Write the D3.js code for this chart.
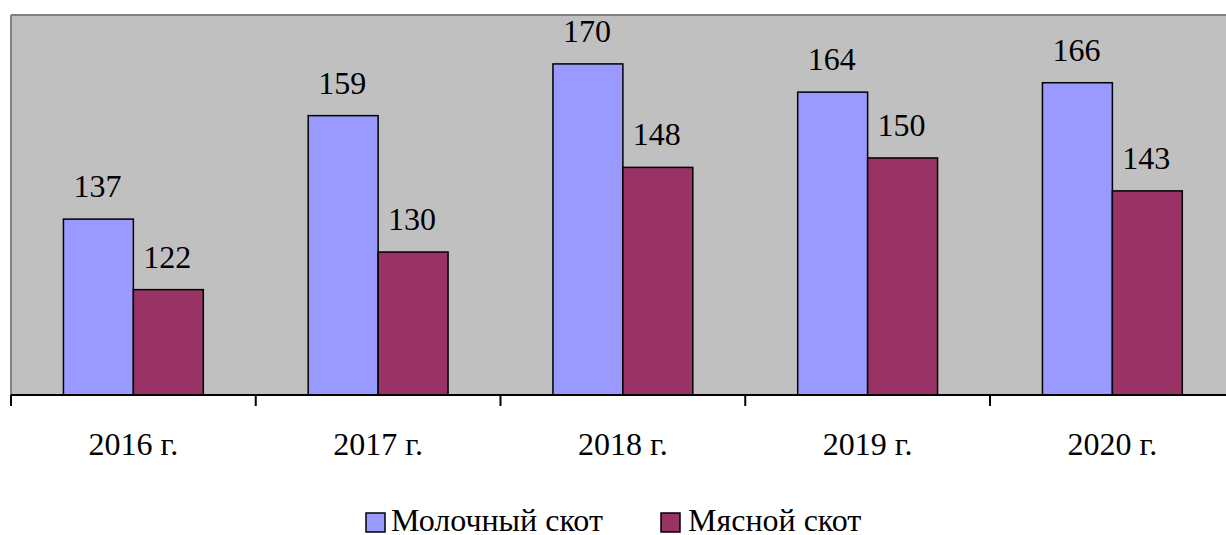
<!DOCTYPE html>
<html>
<head>
<meta charset="utf-8">
<script src="https://cdn.jsdelivr.net/npm/d3@7"></script>
<style>
  html, body { margin: 0; padding: 0; background: #fff; overflow: hidden; }
  svg { display: block; }
</style>
</head>
<body>
<svg id="chart" width="1226" height="535"></svg>
<script>
const categories = ["2016 г.", "2017 г.", "2018 г.", "2019 г.", "2020 г."];
const seriesNames = ["Молочный скот", "Мясной скот"];
const dairy = [137, 159, 170, 164, 166];
const beef = [122, 130, 148, 150, 143];
const seriesColors = ["#9999FF", "#993366"];

const FONT = "Liberation Serif";
const svg = d3.select("#chart");

const plot = { left: 11, top: 15, bottom: 395, catWidth: 244.75 };
const plotRight = plot.left + plot.catWidth * categories.length;

const x = d3.scaleBand().domain(categories).range([plot.left, plotRight]).paddingInner(0).paddingOuter(0);
const y = d3.scaleLinear().domain([99.6, 180.4]).range([plot.bottom, plot.top]);

const bw = x.bandwidth() / 3.5;
const gapOff = x.bandwidth() * 0.75 / 3.5;

// plot background
svg.append("rect")
  .attr("x", plot.left).attr("y", plot.top)
  .attr("width", plotRight - plot.left).attr("height", plot.bottom - plot.top)
  .attr("fill", "#C0C0C0");
svg.append("line").attr("x1", plot.left).attr("x2", plotRight).attr("y1", plot.top).attr("y2", plot.top)
  .attr("stroke", "#808080").attr("stroke-width", 2);
svg.append("line").attr("x1", plot.left).attr("x2", plot.left).attr("y1", plot.top).attr("y2", plot.bottom)
  .attr("stroke", "#808080").attr("stroke-width", 2);

const series = [dairy, beef];
series.forEach((vals, si) => {
  const g = svg.append("g");
  g.selectAll("rect").data(vals).join("rect")
    .attr("x", (d, i) => x(categories[i]) + gapOff + si * bw)
    .attr("y", d => y(d))
    .attr("width", bw)
    .attr("height", d => plot.bottom - y(d))
    .attr("fill", seriesColors[si])
    .attr("stroke", "#000").attr("stroke-width", 1.5);
  g.selectAll("text").data(vals).join("text")
    .attr("x", (d, i) => x(categories[i]) + gapOff + si * bw + bw / 2 - 1)
    .attr("y", d => y(d) - 22)
    .attr("text-anchor", "middle")
    .attr("font-family", FONT)
    .attr("font-size", 32)
    .attr("fill", "#000")
    .text(d => d);
});

// axis line
svg.append("line").attr("x1", plot.left).attr("x2", plotRight).attr("y1", plot.bottom).attr("y2", plot.bottom)
  .attr("stroke", "#000").attr("stroke-width", 2);
const tickPos = categories.map(c => x(c)).concat([plotRight]);
svg.selectAll("line.tick").data(tickPos).join("line").attr("class", "tick")
  .attr("x1", d => d).attr("x2", d => d).attr("y1", plot.bottom).attr("y2", plot.bottom + 11)
  .attr("stroke", "#000").attr("stroke-width", 2);
svg.selectAll("text.cat").data(categories).join("text").attr("class", "cat")
  .attr("x", d => x(d) + x.bandwidth() / 2)
  .attr("y", 455)
  .attr("text-anchor", "middle")
  .attr("font-family", FONT)
  .attr("font-size", 32)
  .attr("fill", "#000")
  .text(d => d);

// legend
const legendItems = [{ sx: 366, tx: 391 }, { sx: 661, tx: 688 }];
seriesNames.forEach((name, i) => {
  svg.append("rect").attr("x", legendItems[i].sx).attr("y", 513).attr("width", 19).attr("height", 19)
    .attr("fill", seriesColors[i]).attr("stroke", "#000").attr("stroke-width", 1.5);
  svg.append("text").attr("x", legendItems[i].tx).attr("y", 531)
    .attr("font-family", FONT).attr("font-size", 32).attr("fill", "#000").text(name);
});
</script>
</body>
</html>
